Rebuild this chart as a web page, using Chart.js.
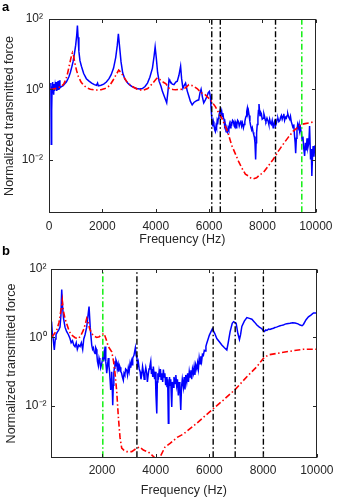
<!DOCTYPE html>
<html><head><meta charset="utf-8">
<script src="https://cdn.jsdelivr.net/npm/chart.js@4.4.1/dist/chart.umd.min.js"></script>
<style>
html,body{margin:0;padding:0;background:#fff;width:339px;height:501px;overflow:hidden;}
canvas{position:absolute;left:0;}
.lbl{position:absolute;font:bold 13px "Liberation Sans",Arial,sans-serif;line-height:13px;color:#000;z-index:2;}
</style></head><body>
<canvas id="ca" width="339" height="250" style="top:0"></canvas>
<canvas id="cb" width="339" height="251" style="top:250px"></canvas>
<div class="lbl" style="left:2px;top:0px">a</div>
<div class="lbl" style="left:2px;top:244px">b</div>
<script>
// ---------- data (frequency in Hz, normalized transmitted force) ----------
const xTitle = 'Frequency (Hz)';
const yTitle = 'Normalized transmitted force';
const xTicksA = [0, 2000, 4000, 6000, 8000, 10000];
const xTicksB = [2000, 4000, 6000, 8000, 10000];
const yTickVals = [0.01, 1, 100];
const yTickLabels = ['10\u207B\u00B2', '10\u2070', '10\u00B2'];
const yMin = 0.000316, yMax = 100;

const blueA = [[50,1.3],[70,1.5],[85,0.027],[95,0.2],[105,0.25],[115,1.0],[130,1.6],[145,0.9],[160,1.2],[175,0.7],[190,1.4],[210,0.9],[230,1.3],[250,1.0],[270,1.6],[290,0.9],[310,1.1],[330,1.7],[350,1.0],[370,1.1],[390,1.8],[410,1.1],[440,1.15],[480,1.2],[520,1.25],[560,1.35],[600,1.45],[650,1.6],[700,1.9],[750,2.3],[800,3.0],[850,4.2],[900,6],[950,10],[1000,18],[1040,35],[1065,65],[1090,30],[1120,12],[1160,6.5],[1215,4.5],[1300,2.8],[1400,2.0],[1500,1.7],[1600,1.5],[1700,1.35],[1780,1.3],[1820,1.5],[1850,1.25],[1950,1.3],[2050,1.4],[2150,1.6],[2250,2.0],[2330,2.6],[2420,4],[2500,8],[2560,18],[2600,38],[2640,18],[2700,6],[2763,2.9],[2850,1.9],[2950,1.5],[3011,1.35],[3100,1.2],[3200,1.1],[3300,1.05],[3383,1.02],[3500,1.05],[3600,1.2],[3691,1.5],[3780,2.2],[3877,4.0],[3940,9],[3978,16],[4020,8],[4070,3.0],[4126,1.7],[4200,1.2],[4250,0.87],[4330,0.6],[4411,0.41],[4460,0.9],[4498,1.9],[4530,1.7],[4561,1.6],[4620,1.4],[4684,1.35],[4750,1.6],[4808,1.7],[4870,2.5],[4932,4.5],[4970,2.0],[5019,1.07],[5070,1.3],[5118,1.5],[5180,0.9],[5242,0.63],[5300,0.45],[5366,0.36],[5430,0.42],[5490,0.45],[5550,0.48],[5613,0.5],[5660,0.8],[5700,1.0],[5750,0.6],[5799,0.41],[5860,0.5],[5923,0.63],[5970,0.8],[6011,0.87],[6050,0.6],[6071,0.32],[6110,0.12],[6134,0.087],[6160,0.12],[6180,0.1],[6210,0.07],[6234,0.063],[6260,0.09],[6280,0.08],[6300,0.12],[6320,0.1],[6345,0.15],[6370,0.18],[6395,0.22],[6420,0.26],[6445,0.2],[6470,0.24],[6495,0.17],[6517,0.21],[6540,0.15],[6560,0.14],[6585,0.09],[6606,0.1],[6630,0.07],[6650,0.075],[6670,0.06],[6691,0.058],[6715,0.08],[6740,0.07],[6765,0.1],[6792,0.08],[6820,0.11],[6850,0.1],[6880,0.13],[6914,0.12],[6940,0.09],[6960,0.085],[6980,0.12],[7000,0.11],[7020,0.08],[7037,0.09],[7070,0.13],[7100,0.12],[7130,0.09],[7164,0.11],[7190,0.13],[7220,0.09],[7250,0.11],[7286,0.08],[7315,0.1],[7340,0.12],[7365,0.15],[7387,0.17],[7410,0.23],[7435,0.29],[7455,0.22],[7472,0.25],[7500,0.18],[7530,0.12],[7560,0.09],[7595,0.07],[7620,0.08],[7650,0.06],[7675,0.05],[7695,0.045],[7720,0.03],[7744,0.01],[7762,0.03],[7781,0.058],[7805,0.1],[7830,0.15],[7850,0.25],[7870,0.38],[7890,0.25],[7907,0.17],[7935,0.22],[7960,0.2],[7990,0.14],[8030,0.15],[8055,0.2],[8080,0.17],[8105,0.13],[8130,0.12],[8170,0.15],[8216,0.12],[8240,0.1],[8270,0.14],[8300,0.11],[8330,0.1],[8365,0.13],[8401,0.08],[8425,0.1],[8450,0.12],[8490,0.09],[8524,0.11],[8550,0.14],[8580,0.15],[8615,0.12],[8651,0.13],[8680,0.16],[8710,0.18],[8740,0.14],[8773,0.17],[8800,0.2],[8830,0.13],[8865,0.16],[8896,0.15],[8925,0.18],[8950,0.2],[8985,0.16],[9023,0.14],[9050,0.17],[9080,0.12],[9110,0.1],[9145,0.08],[9175,0.1],[9200,0.05],[9225,0.03],[9245,0.015],[9270,0.04],[9294,0.07],[9320,0.1],[9350,0.08],[9375,0.1],[9394,0.065],[9425,0.08],[9454,0.058],[9490,0.035],[9517,0.045],[9550,0.02],[9580,0.0126],[9610,0.03],[9640,0.018],[9670,0.04],[9703,0.022],[9740,0.03],[9766,0.09],[9803,0.01],[9830,0.02],[9851,0.0034],[9880,0.015],[9900,0.024],[9930,0.012],[9960,0.025],[9974,0.018],[10000,0.02]];

const redA = [[50,1.0],[150,1.02],[300,1.07],[450,1.2],[550,1.4],[620,1.8],[680,2.5],[740,4],[800,6.5],[850,9.5],[880,11],[920,9],[970,5.5],[1030,3.5],[1100,2.3],[1200,1.6],[1300,1.3],[1400,1.12],[1550,1.0],[1700,0.96],[1800,0.95],[1950,0.97],[2100,1.05],[2268,1.25],[2400,1.8],[2516,2.6],[2613,3.5],[2700,3.0],[2825,2.1],[2950,1.5],[3134,1.2],[3300,1.0],[3506,0.93],[3700,1.05],[3877,1.45],[4000,1.9],[4063,2.1],[4150,1.9],[4300,1.55],[4375,1.45],[4498,1.07],[4650,0.98],[4747,0.97],[4993,1.0],[5120,1.1],[5242,1.35],[5400,1.25],[5550,1.05],[5700,0.8],[5862,0.69],[6050,0.5],[6234,0.32],[6350,0.22],[6480,0.15],[6600,0.09],[6700,0.06],[6850,0.025],[6977,0.015],[7100,0.009],[7223,0.0058],[7360,0.0038],[7472,0.0034],[7580,0.0029],[7658,0.0028],[7780,0.003],[7907,0.0037],[8030,0.0042],[8216,0.0065],[8400,0.01],[8590,0.017],[8773,0.027],[8959,0.042],[9145,0.063],[9300,0.08],[9454,0.1],[9600,0.105],[9766,0.11],[10000,0.123]];

const blackLinesA = [6100, 6420, 8490];
const greenLinesA = [9475];

const blueB = [[120,2.9],[150,1.3],[180,0.93],[223,0.43],[260,0.9],[286,1.2],[330,1.4],[380,1.6],[435,2.0],[470,4.5],[499,25],[530,8],[570,3.5],[622,2.0],[680,1.5],[750,1.2],[808,0.93],[850,0.7],[900,0.8],[950,0.6],[995,0.54],[1040,0.7],[1080,0.45],[1130,0.6],[1181,0.54],[1230,0.7],[1280,0.45],[1320,0.9],[1368,1.2],[1430,2.0],[1480,4.5],[1517,8],[1560,2.0],[1617,0.6],[1650,0.45],[1680,0.5],[1710,0.38],[1740,0.34],[1765,0.5],[1790,0.45],[1810,0.3],[1830,0.2],[1863,0.15],[1890,0.25],[1920,0.2],[1950,0.13],[1989,0.17],[2015,0.22],[2040,0.3],[2060,0.2],[2080,0.25],[2112,0.54],[2140,0.2],[2175,0.09],[2205,0.15],[2235,0.25],[2258,0.15],[2280,0.1],[2300,0.06],[2324,0.029],[2342,0.06],[2360,0.1],[2380,0.04],[2399,0.0105],[2420,0.04],[2440,0.09],[2459,0.126],[2480,0.2],[2500,0.15],[2520,0.22],[2548,0.19],[2570,0.12],[2600,0.16],[2625,0.1],[2650,0.15],[2671,0.135],[2700,0.1],[2730,0.09],[2760,0.07],[2794,0.056],[2820,0.09],[2850,0.08],[2880,0.12],[2921,0.11],[2950,0.08],[2980,0.13],[3010,0.1],[3044,0.17],[3070,0.13],[3100,0.2],[3125,0.16],[3144,0.25],[3190,0.3],[3241,0.5],[3270,0.3],[3300,0.25],[3325,0.15],[3353,0.19],[3385,0.12],[3420,0.1],[3450,0.06],[3479,0.08],[3510,0.14],[3540,0.1],[3570,0.06],[3600,0.09],[3630,0.13],[3666,0.09],[3690,0.05],[3720,0.08],[3750,0.12],[3780,0.14],[3815,0.2],[3840,0.09],[3860,0.12],[3890,0.07],[3912,0.14],[3940,0.08],[3960,0.06],[3985,0.1],[4010,0.02],[4039,0.006],[4060,0.05],[4080,0.09],[4098,0.058],[4125,0.1],[4150,0.07],[4175,0.12],[4200,0.06],[4230,0.09],[4260,0.05],[4285,0.115],[4310,0.07],[4340,0.09],[4370,0.04],[4400,0.07],[4420,0.035],[4445,0.06],[4471,0.0031],[4490,0.03],[4515,0.07],[4534,0.04],[4560,0.06],[4580,0.02],[4597,0.0093],[4620,0.05],[4650,0.035],[4680,0.07],[4720,0.045],[4750,0.08],[4780,0.04],[4810,0.06],[4843,0.02],[4870,0.05],[4900,0.03],[4933,0.0076],[4960,0.035],[4990,0.06],[5030,0.035],[5060,0.07],[5090,0.03],[5120,0.08],[5157,0.05],[5190,0.09],[5220,0.05],[5250,0.1],[5280,0.07],[5310,0.11],[5340,0.06],[5370,0.12],[5403,0.09],[5430,0.14],[5460,0.08],[5490,0.16],[5529,0.12],[5560,0.18],[5590,0.12],[5620,0.25],[5652,0.17],[5680,0.28],[5710,0.2],[5740,0.32],[5775,0.3],[5810,0.42],[5840,0.4],[5870,0.55],[5902,0.68],[5999,1.17],[6111,1.8],[6200,1.3],[6275,0.93],[6370,0.75],[6461,0.6],[6560,0.5],[6648,0.43],[6700,0.7],[6771,1.48],[6850,2.6],[6900,2.9],[6995,2.6],[7060,1.3],[7119,0.87],[7160,1.2],[7208,2.1],[7300,3.0],[7395,3.8],[7490,3.6],[7581,3.4],[7680,2.8],[7768,2.3],[7860,2.0],[7954,1.8],[8000,1.6],[8050,1.5],[8100,1.65],[8141,1.6],[8200,1.75],[8250,1.7],[8320,1.8],[8387,1.86],[8440,1.95],[8500,2.0],[8570,2.1],[8633,2.2],[8690,2.25],[8750,2.3],[8820,2.45],[8883,2.5],[9000,2.6],[9100,2.7],[9192,2.65],[9300,2.5],[9378,2.3],[9450,2.2],[9501,2.4],[9600,3.3],[9688,4.0],[9780,4.5],[9875,5.2],[10000,5.2]];

const redB = [[120,1.05],[200,1.2],[312,1.6],[400,2.8],[450,5],[500,9],[521,12],[560,6],[620,3.6],[685,2.5],[780,1.5],[871,1.17],[1000,0.98],[1117,0.93],[1200,1.1],[1303,1.6],[1380,2.5],[1430,3.6],[1480,2.8],[1540,1.8],[1617,1.3],[1700,1.1],[1803,1.0],[1900,1.05],[1989,1.2],[2075,1.32],[2150,0.9],[2235,0.54],[2362,0.38],[2430,0.2],[2485,0.09],[2550,0.025],[2608,0.0048],[2670,0.0012],[2734,0.00058],[2821,0.0005],[2921,0.00046],[3107,0.00046],[3293,0.00058],[3400,0.00063],[3539,0.00051],[3726,0.00045],[3850,0.00037],[3974,0.0003],[4100,0.00028],[4162,0.00032],[4348,0.00063],[4534,0.0008],[4800,0.0012],[5030,0.0015],[5529,0.0031],[6088,0.0076],[6520,0.0148],[6956,0.03],[7395,0.071],[7768,0.14],[8011,0.245],[8198,0.31],[8633,0.355],[9130,0.41],[9501,0.45],[10000,0.45]];

const blackLinesB = [3300, 6140, 6960, 8010];
const greenLinesB = [2030];

// ---------- styling ----------
const FONT = '"Liberation Sans", Arial, Helvetica, sans-serif';
const AXC = '#262626';
const DASHDOT = [6, 2.5, 1.5, 2.5];

function vlineSets(xs, color, order) {
  return xs.map(v => ({
    data: [[v, yMin], [v, yMax]],
    borderColor: color, borderWidth: 1.4, borderDash: DASHDOT,
    pointRadius: 0, order: order, fill: false
  }));
}

const boxTicks = {
  id: 'boxTicks',
  afterDatasetsDraw(chart) {
    const {ctx, chartArea: ca, scales: {x, y}} = chart;
    const L = Math.round(ca.left) + 0.5, R = Math.round(ca.right) - 0.5;
    const T = Math.round(ca.top) + 0.5, B = Math.round(ca.bottom) - 0.5;
    ctx.save();
    ctx.strokeStyle = AXC; ctx.lineWidth = 1; ctx.setLineDash([]);
    ctx.strokeRect(L, T, R - L, B - T);
    ctx.beginPath();
    const tl = 3.5;
    x.ticks.forEach(t => {
      const p = Math.round(x.getPixelForValue(t.value)) + 0.5;
      ctx.moveTo(p, B); ctx.lineTo(p, B - tl);
      ctx.moveTo(p, T); ctx.lineTo(p, T + tl);
    });
    y.ticks.forEach(t => {
      const p = Math.round(y.getPixelForValue(t.value)) + 0.5;
      ctx.moveTo(L, p); ctx.lineTo(L + tl, p);
      ctx.moveTo(R, p); ctx.lineTo(R - tl, p);
    });
    ctx.stroke();
    ctx.restore();
  }
};

function makeChart(id, cfg) {
  const datasets = [
    ...vlineSets(cfg.black, '#000000', 0),
    ...vlineSets(cfg.green, '#00ee00', 0),
    { data: cfg.red, borderColor: '#ff0000', borderWidth: 1.6, borderDash: DASHDOT, pointRadius: 0, order: 1, tension: 0 },
    { data: cfg.blue, borderColor: '#0000ff', borderWidth: 1.5, pointRadius: 0, order: 2, tension: 0 }
  ];
  return new Chart(document.getElementById(id), {
    type: 'line',
    data: { datasets },
    plugins: [boxTicks],
    options: {
      responsive: false, animation: false, devicePixelRatio: 1,
      layout: { padding: { left: 0, right: cfg.padR, top: 19, bottom: 0 } },
      plugins: { legend: { display: false }, tooltip: { enabled: false } },
      scales: {
        x: {
          type: 'linear', min: cfg.xmin, max: 10000,
          afterBuildTicks: s => { s.ticks = cfg.xticks.map(v => ({ value: v })); },
          afterFit: s => { s.height = cfg.xh; },
          grid: { display: false, drawTicks: false }, border: { display: false },
          ticks: { color: AXC, font: { family: FONT, size: 12 }, padding: cfg.xpad, maxRotation: 0, autoSkip: false,
                   callback: v => String(v) },
          title: { display: true, text: xTitle, color: AXC, font: { family: FONT, size: 12.5 }, padding: { top: 0, bottom: 2.5 } }
        },
        y: {
          type: 'logarithmic', min: yMin, max: yMax,
          afterBuildTicks: s => { s.ticks = yTickVals.map(v => ({ value: v })); },
          afterFit: s => { s.width = cfg.yw; },
          grid: { display: false, drawTicks: false }, border: { display: false },
          ticks: { color: AXC, font: { family: FONT, size: 12 }, padding: cfg.ypad, autoSkip: false,
                   callback: (v, i) => yTickLabels[i] },
          title: { display: true, text: yTitle, color: AXC, font: { family: FONT, size: 12.5 }, padding: { top: cfg.ytp, bottom: 0 } }
        }
      }
    }
  });
}

makeChart('ca', { blue: blueA, red: redA, black: blackLinesA, green: greenLinesA,
  xmin: 0, xticks: xTicksA, padR: 21, xh: 37, yw: 49, xpad: 6.5, ypad: 6, ytp: 2.5 });
makeChart('cb', { blue: blueB, red: redB, black: blackLinesB, green: greenLinesB,
  xmin: 100, xticks: xTicksB, padR: 22, xh: 43, yw: 51, xpad: 5.5, ypad: 4.5, ytp: 4.5 });
</script>
</body></html>
